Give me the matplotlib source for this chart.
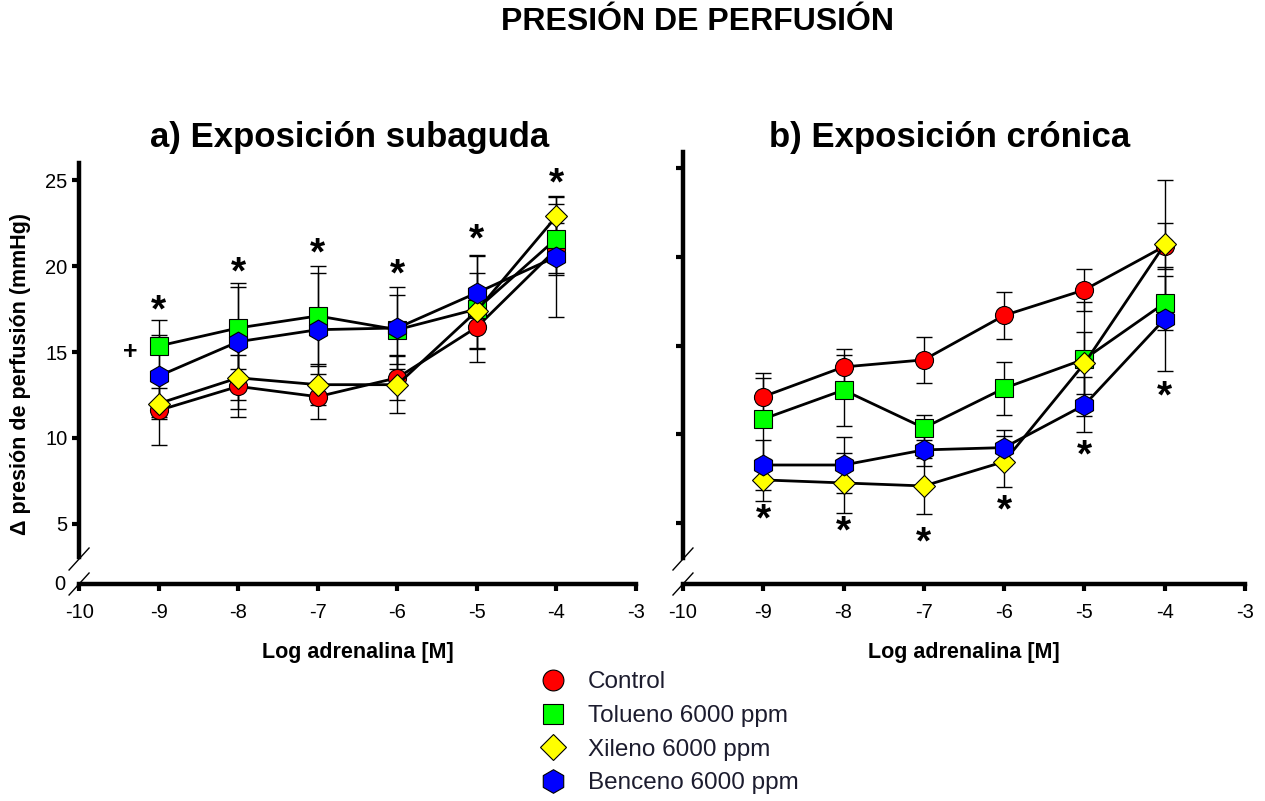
import matplotlib
matplotlib.use("Agg")
import matplotlib.pyplot as plt
from matplotlib.lines import Line2D
from matplotlib.transforms import ScaledTranslation

plt.rcParams['font.family'] = ['Liberation Sans', 'DejaVu Sans']
plt.rcParams['axes.unicode_minus'] = False

log_adr = [-9, -8, -7, -6, -5, -4]
groups = ['Control', 'Tolueno 6000 ppm', 'Xileno 6000 ppm', 'Benceno 6000 ppm']

# a) subaguda: medias y error
sub_control = [11.6, 13.0, 12.4, 13.5, 16.45, 21.0]
sub_tolueno = [15.35, 16.4, 17.1, 16.3, 17.5, 21.6]
sub_xileno = [12.0, 13.5, 13.1, 13.1, 17.4, 22.9]
sub_benceno = [13.6, 15.6, 16.3, 16.4, 18.45, 20.55]
sub_control_err = [2.0, 1.8, 1.3, 1.3, 1.2, 1.5]
sub_tolueno_err = [1.5, 2.4, 2.9, 2.0, 3.1, 2.0]
sub_xileno_err = [0.9, 1.8, 1.2, 1.65, 2.2, 1.2]
sub_benceno_err = [2.4, 3.4, 3.3, 2.4, 2.2, 3.5]

# b) crónica
cro_control = [12.13, 13.8, 14.2, 16.7, 18.14, 20.6]
cro_tolueno = [10.87, 12.5, 10.37, 12.6, 14.24, 17.4]
cro_xileno = [7.44, 7.27, 7.1, 8.47, 14.0, 20.7]
cro_benceno = [8.28, 8.28, 9.13, 9.26, 11.66, 16.5]
cro_control_err = [1.35, 1.0, 1.3, 1.3, 1.2, 1.3]
cro_tolueno_err = [2.3, 2.0, 0.7, 1.5, 3.2, 1.5]
cro_xileno_err = [1.2, 1.7, 1.6, 1.45, 1.75, 3.6]
cro_benceno_err = [1.4, 1.6, 0.9, 1.0, 1.55, 2.9]

# marcas de significancia
sub_star_y = [17.7, 19.9, 21.0, 19.8, 21.8, 25.1]
cro_star_y = [5.46, 4.8, 4.2, 6.0, 9.1, 12.4]

styles = [('o', '#ff0000'), ('s', '#00ff00'), ('D', '#ffff00'), ('h', '#0000ff')]
msizes = [13, 12.5, 11, 15]

tick_font = ['Liberation Sans Narrow', 'Liberation Sans', 'DejaVu Sans']

fig = plt.figure(figsize=(12.65, 8.01), dpi=100)
ax1 = fig.add_axes([0.0625, 0.2709, 0.4403, 0.5256])
ax2 = fig.add_axes([0.5399, 0.2709, 0.4443, 0.5393])


def draw_panel(ax, means, errs, ylim, ybreak):
    for (m, c), ms, y, e in zip(styles, msizes, means, errs):
        ax.errorbar(log_adr, y, yerr=e, fmt='none', ecolor='black',
                    elinewidth=1, capsize=6, capthick=1, zorder=2)
        ax.plot(log_adr, y, color='black', lw=2, marker=m, ms=ms,
                mfc=c, mec='black', mew=0.8, zorder=3)
    ax.set_xlim(-10, -3)
    ax.set_ylim(*ylim)
    ax.set_xticks(range(-10, -2))
    ax.set_yticks([5, 10, 15, 20, 25])
    for s in ['top', 'right']:
        ax.spines[s].set_visible(False)
    ax.spines['left'].set_linewidth(3.2)
    ax.spines['bottom'].set_linewidth(3.2)
    ax.spines['left'].set_bounds(ybreak, ylim[1])
    ax.tick_params(axis='both', direction='out', length=5, width=3,
                   labelsize=14.5)
    ax.tick_params(axis='x', pad=9)
    for lab in ax.get_xticklabels() + ax.get_yticklabels():
        lab.set_family(tick_font)
    ax.set_xlabel('Log adrenalina [M]', fontsize=15.5, fontweight='bold',
                  labelpad=14)
    # marcas de corte del eje
    for dy in (0.0, 0.25):
        tr = fig.dpi_scale_trans + ScaledTranslation(0, 0, ax.transAxes)
        ax.add_line(Line2D([-0.1, 0.1], [dy - 0.11, dy + 0.11], color='black',
                           lw=1, transform=tr, clip_on=False))


def add_stars(ax, ys):
    for x, y in zip(log_adr, ys):
        ax.annotate('*', (x, y), xytext=(0, -4), textcoords='offset points',
                    ha='center', va='center', fontsize=28, fontweight='bold')


draw_panel(ax1, [sub_control, sub_tolueno, sub_xileno, sub_benceno],
           [sub_control_err, sub_tolueno_err, sub_xileno_err, sub_benceno_err],
           (1.5, 26.0), 3.08)
draw_panel(ax2, [cro_control, cro_tolueno, cro_xileno, cro_benceno],
           [cro_control_err, cro_tolueno_err, cro_xileno_err, cro_benceno_err],
           (1.58, 25.9), 3.04)

ax2.set_yticklabels([])
ax1.text(-0.025, 0, '0', transform=ax1.transAxes, ha='right', va='center',
         fontsize=14.5, family=tick_font)
ax1.set_ylabel('\u0394 presión de perfusión (mmHg)', fontsize=15.5,
               fontweight='bold', labelpad=10)

add_stars(ax1, sub_star_y)
add_stars(ax2, cro_star_y)
ax1.text(-9.36, 15.0, '+', ha='center', va='center', fontsize=18,
         fontweight='bold')

fig.text(0.551, 0.9725, 'PRESIÓN DE PERFUSIÓN', ha='center', va='center',
         fontsize=23, fontweight='bold')
fig.text(350 / 1265, 1 - 138 / 801, 'a) Exposición subaguda', ha='center',
         va='center', fontsize=25, fontweight='bold')
fig.text(950 / 1265, 1 - 138 / 801, 'b) Exposición crónica', ha='center',
         va='center', fontsize=25, fontweight='bold')

handles = [Line2D([], [], ls='none', marker=m, ms=ms + 2, mfc=c,
                  mec='black', mew=0.8) for (m, c), ms in zip(styles, msizes)]
fig.legend(handles, groups, loc='upper left', bbox_to_anchor=(0.415, 0.174),
           frameon=False, fontsize=17.5, labelspacing=0.48, handlelength=1.5,
           handletextpad=0.7, labelcolor='#1c1c2e', borderaxespad=0)

fig.savefig('out.png', dpi=100)
